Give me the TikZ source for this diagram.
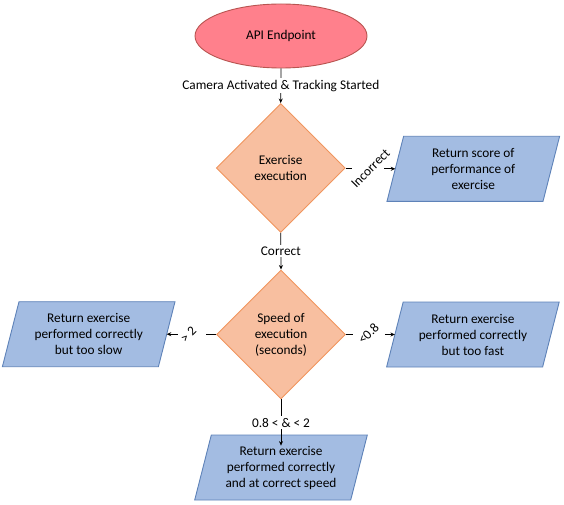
\documentclass[tikz,border=0pt]{standalone}
\usepackage{fontspec}
\setmainfont{Carlito}
\usetikzlibrary{shapes.geometric,arrows.meta,calc}
\definecolor{ellfill}{HTML}{FF808C}
\definecolor{elldraw}{HTML}{B85450}
\definecolor{dfill}{HTML}{F8BFA0}
\definecolor{ddraw}{HTML}{F0955E}
\definecolor{pfill}{HTML}{A3BCE2}
\definecolor{pdraw}{HTML}{5E82B8}
\newcommand{\plgram}[4]{%
  \begin{scope}[shift={(#2,#3)}]
    \draw[pstyle] (-69.7,-32.5) -- (86.3,-32.5) -- (69.7,32.5) -- (-86.3,32.5) -- cycle;
    \node[ptext] (#1) at (0,0) {#4};
    \coordinate (#1w) at (-78,0);
    \coordinate (#1e) at (78,0);
    \coordinate (#1n) at (0,-32.5);
  \end{scope}}
\begin{document}
\begin{tikzpicture}[x=1pt,y=-1pt,
  font=\fontsize{13.3}{16}\selectfont,
  pstyle/.style={draw=pdraw,fill=pfill,line width=0.9pt,line join=miter},
  ptext/.style={align=center,inner sep=0pt},
  dec/.style={diamond,aspect=1,draw=ddraw,fill=dfill,line width=0.9pt,minimum width=129pt,minimum height=129pt,inner sep=0pt,align=center},
  startnode/.style={ellipse,draw=elldraw,fill=ellfill,line width=0.9pt,minimum width=172pt,minimum height=64pt,inner sep=0pt},
  edge/.style={draw=black,line width=0.8pt,-{Stealth[length=4.5pt,width=4pt]}},
  plain/.style={draw=black,line width=0.8pt},
  lbl/.style={fill=white,inner sep=1.5pt},
  rlbl/.style={inner sep=0pt,rotate=45}]
\useasboundingbox (0,0) rectangle (564,505);
\node[startnode] (api) at (281,36) {API Endpoint};
\node[dec] (d1) at (280.7,168) {Exercise\\execution};
\node[dec] (d2) at (281,334.5) {Speed of\\execution\\(seconds)};
\plgram{p1}{473.3}{168.8}{Return score of\\performance of\\exercise}
\plgram{pl}{88.7}{334.2}{Return exercise\\performed correctly\\but too slow}
\plgram{pr}{472.9}{334.5}{Return exercise\\performed correctly\\but too fast}
\plgram{pb}{281}{467.5}{Return exercise\\performed correctly\\and at correct speed}
% vertical edges
\draw[edge] (api.south) -- node[lbl] (l1) {Camera Activated \& Tracking Started} (d1.north);
\draw[edge] (d1.south) -- node[lbl] (l2) {Correct} (d2.north);
\draw[edge] (d2.south) -- node[lbl] (l3) {0.8 < \& < 2} (pb.north);
% incorrect
\coordinate (i1) at ($(d1.east)+(6,0)$);
\coordinate (i2) at ($(p1w)+(-11,0)$);
\draw[plain] (d1.east) -- (i1);
\draw[edge] (i2) -- (p1w);
\node[rlbl] (li) at ($(d1.east)!0.5!(p1w)$) {Incorrect};
% < 0.8
\coordinate (r1) at ($(d2.east)+(7,0)$);
\coordinate (r2) at ($(prw)+(-10,0)$);
\draw[plain] (d2.east) -- (r1);
\draw[edge] (r2) -- (prw);
\node[rlbl] (lr) at ($(d2.east)!0.5!(prw)+(-2,-1)$) {<0.8};
% > 2
\coordinate (s1) at ($(d2.west)+(-10,0)$);
\coordinate (s2) at ($(ple)+(11,0)$);
\draw[plain] (d2.west) -- (s1);
\draw[edge] (s2) -- (ple);
\node[rlbl] (ls) at ($(d2.west)!0.5!(ple)+(-3,0)$) {> 2};
\end{tikzpicture}
\end{document}
